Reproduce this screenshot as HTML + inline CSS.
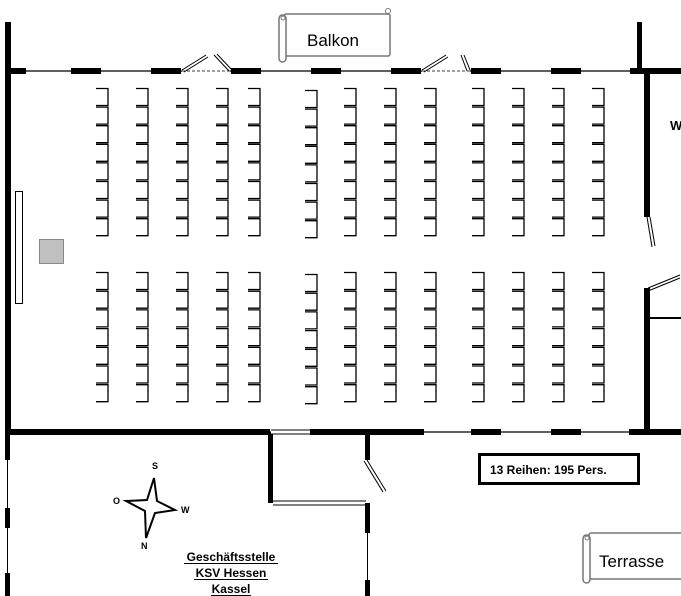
<!DOCTYPE html>
<html><head><style>body{margin:0;background:#fff}svg{display:block}</style></head>
<body>
<svg width="681" height="596" viewBox="0 0 681 596" xmlns="http://www.w3.org/2000/svg" font-family="Liberation Sans, sans-serif">
<defs>
<path id="ch" d="M0 0.5H12V17.5H0" fill="none" stroke="#000" stroke-width="1.3"/>
<g id="up"><use href="#ch" y="88"/><use href="#ch" y="106.6"/><use href="#ch" y="125.2"/><use href="#ch" y="143.8"/><use href="#ch" y="162.4"/><use href="#ch" y="181"/><use href="#ch" y="199.6"/><use href="#ch" y="218.2"/></g>
<g id="lo"><use href="#ch" y="272"/><use href="#ch" y="290.7"/><use href="#ch" y="309.4"/><use href="#ch" y="328.1"/><use href="#ch" y="346.8"/><use href="#ch" y="365.5"/><use href="#ch" y="384.2"/></g>
<g id="col"><use href="#up"/><use href="#lo"/></g>
</defs>
<use href="#col" x="96"/><use href="#col" x="136"/><use href="#col" x="176"/><use href="#col" x="216"/><use href="#col" x="248"/>
<use href="#col" x="305" y="2"/><use href="#col" x="344"/><use href="#col" x="384"/><use href="#col" x="424"/>
<use href="#col" x="472"/><use href="#col" x="512"/><use href="#col" x="552"/><use href="#col" x="592"/>

<line x1="8" y1="71" x2="640" y2="71" stroke="#000" stroke-width="1.2"/>
<g fill="#000">
<rect x="8" y="68" width="18" height="6"/><rect x="71" y="68" width="30" height="6"/><rect x="151" y="68" width="30" height="6"/>
<rect x="231" y="68" width="30" height="6"/><rect x="311" y="68" width="30" height="6"/><rect x="391" y="68" width="30" height="6"/>
<rect x="471" y="68" width="30" height="6"/><rect x="551" y="68" width="30" height="6"/><rect x="630" y="68" width="51" height="6"/>
<rect x="5" y="22" width="6" height="412"/>
<rect x="637" y="22" width="5" height="50"/>
<rect x="644" y="72" width="6" height="145"/>
<rect x="644" y="288" width="6" height="146"/>
</g>
<g fill="#fff"><rect x="182" y="69" width="48" height="4"/><rect x="422" y="69" width="48" height="4"/></g>
<line x1="182" y1="71" x2="230" y2="71" stroke="#000" stroke-dasharray="3,2" stroke-width="0.8"/>
<line x1="422" y1="71" x2="470" y2="71" stroke="#000" stroke-dasharray="3,2" stroke-width="0.8"/>
<g stroke="#000" stroke-width="1" fill="none">
<path d="M182 70L206 55M184 72L208 57"/><path d="M214 55L229 71M217 54L232 70"/>
<path d="M422 70L446 55M424 72L448 57"/><path d="M461 55L467 71M464 55L470 70"/>
<path d="M647 217L652 247M650 217L655 246"/>
<path d="M648 288L680 275M648 291L680 278"/>
<line x1="650" y1="318" x2="681" y2="318" stroke-width="2"/>
</g>
<text x="670" y="130" font-size="13" font-weight="bold">W</text>

<line x1="8" y1="432" x2="681" y2="432" stroke="#000" stroke-width="1.2"/>
<g fill="#000">
<rect x="5" y="429" width="265" height="6"/><rect x="310" y="429" width="114" height="6"/>
<rect x="471" y="429" width="30" height="6"/><rect x="551" y="429" width="30" height="6"/><rect x="629" y="429" width="52" height="6"/>
<rect x="268" y="432" width="5" height="71"/>
<rect x="365" y="432" width="5" height="28"/>
<rect x="365" y="503" width="5" height="30"/><rect x="365" y="580" width="5" height="16"/>
<rect x="5" y="432" width="5" height="28"/><rect x="5" y="508" width="5" height="20"/><rect x="5" y="573" width="5" height="23"/>
</g>
<rect x="271" y="430" width="39" height="4" fill="#fff"/>
<g stroke="#000" stroke-width="1" fill="none">
<path d="M271 430H310M271 434H310"/>
<path d="M273 501H366M273 505H366"/>
<path d="M364 461L383 492M367 460L386 491"/>
<line x1="7.5" y1="460" x2="7.5" y2="508"/><line x1="7.5" y1="528" x2="7.5" y2="573"/>
<line x1="367.5" y1="533" x2="367.5" y2="580"/>
</g>

<rect x="15.5" y="191.5" width="7" height="112" fill="#fff" stroke="#000"/>
<rect x="39.5" y="239.5" width="24" height="24" fill="#c0c0c0" stroke="#888"/>

<rect x="284" y="14" width="106" height="42" fill="#fff" stroke="#777" stroke-width="1.5" rx="2"/>
<rect x="279" y="15" width="7" height="47" rx="3.5" fill="#fff" stroke="#777" stroke-width="1.5"/>
<circle cx="283" cy="18" r="2" fill="none" stroke="#777"/>
<circle cx="388" cy="11" r="2.5" fill="#fff" stroke="#777"/>
<text x="307" y="46" font-size="17">Balkon</text>

<rect x="589" y="533" width="100" height="46" fill="#fff" stroke="#777" stroke-width="1.5" rx="2"/>
<rect x="583" y="535" width="7" height="48" rx="3.5" fill="#fff" stroke="#777" stroke-width="1.5"/>
<circle cx="587" cy="538" r="2" fill="none" stroke="#777"/>
<text x="599" y="567" font-size="17">Terrasse</text>

<rect x="479.5" y="454.5" width="159" height="29" fill="#fff" stroke="#000" stroke-width="3"/>
<text x="490" y="474" font-size="12" font-weight="bold">13 Reihen: 195 Pers.</text>

<path d="M154 478L147 500L126 501L145 511L146 538L155 513L175 510L157 501Z" fill="#fff" stroke="#000" stroke-width="2"/>
<g font-size="9" font-weight="bold">
<text x="152" y="469">S</text><text x="113" y="504">O</text><text x="181" y="513">W</text><text x="141" y="549">N</text>
</g>

<g font-size="12" font-weight="bold" text-anchor="middle">
<text x="231" y="561">Geschäftsstelle</text>
<text x="231" y="577">KSV Hessen</text>
<text x="231" y="593">Kassel</text>
</g>
<g stroke="#000"><line x1="184" y1="563.5" x2="278" y2="563.5"/><line x1="194" y1="579.5" x2="268" y2="579.5"/><line x1="211" y1="595.5" x2="251" y2="595.5"/></g>
</svg>
</body></html>
